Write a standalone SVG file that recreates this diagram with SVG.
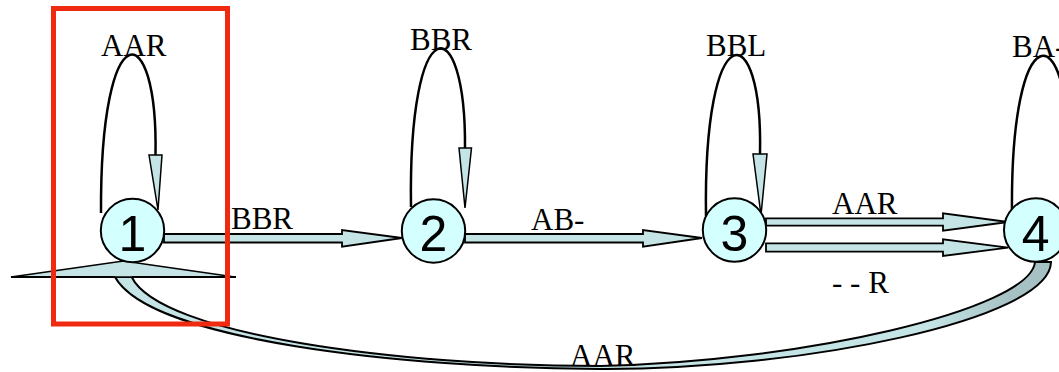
<svg xmlns="http://www.w3.org/2000/svg" width="1059" height="372" viewBox="0 0 1059 372">
<defs>
<style>
.node{fill:#d4ffff;stroke:#000;stroke-width:2}
.num{font-family:"Liberation Sans",Arial,sans-serif;font-size:50px;fill:#000;text-anchor:middle}
.lbl{font-family:"Liberation Serif","Times New Roman",serif;font-size:31px;fill:#000}
.loop{fill:none;stroke:#000;stroke-width:2.5}
.head{fill:#c4e4e6;stroke:#000;stroke-width:1.5;stroke-linejoin:miter}
.arrow{fill:#c4e4e6;stroke:#000;stroke-width:1.8}
</style>
<linearGradient id="band" gradientUnits="userSpaceOnUse" x1="930" y1="0" x2="1010" y2="0">
<stop offset="0" stop-color="#c4e4e6"/>
<stop offset="1" stop-color="#a6c1c3"/>
</linearGradient>
</defs>
<rect width="1059" height="372" fill="#fff"/>
<g id="connectors">
<path id="e41" d="M115,277 C150,340 400,368 600,369 C800,370 1050,320 1051,262 L1035,262 C1030,310 800,362 600,366 C400,366 160,335 131.7,277 Z" fill="url(#band)" stroke="#000" stroke-width="2"/>
<polygon points="11,277 123.5,261 235,277" class="head"/>
<line x1="11" y1="277" x2="115" y2="277" stroke="#000" stroke-width="2"/>
<line x1="131.7" y1="277" x2="236" y2="277" stroke="#000" stroke-width="2"/>
<path d="M101,213 C100,10 158,15 155.5,155" class="loop"/>
<polygon points="149,155 162,155 158,210" class="head"/>
<path d="M411,207 C408,5 466,8 465,148" class="loop"/>
<polygon points="459,148 471.5,148 465,208" class="head"/>
<path d="M706,216 C703,12 763,14 760,154" class="loop"/>
<polygon points="753,154 767,154 761,215" class="head"/>
<path d="M1012,213 C1010,12 1070,15 1068,158" class="loop"/>
<polygon points="1061,158 1075,158 1069,212" class="head"/>
<polygon points="164,234 342,234 342,230 402,238 342,246.7 342,242.5 164,242.5" class="arrow"/>
<polygon points="465,234 643,234 643,230 702,238 643,246.7 643,242.5 465,242.5" class="arrow"/>
<polygon points="766,218.3 943,218.3 943,213.3 1008,222 943,230.7 943,225.7 766,225.7" class="arrow"/>
<polygon points="766,243.3 943,243.3 943,239.3 1008,247.7 943,256 943,251.7 766,251.7" class="arrow"/>
<text class="lbl" x="101" y="56">AAR</text>
<text class="lbl" x="410" y="50">BBR</text>
<text class="lbl" x="706" y="56">BBL</text>
<text class="lbl" x="1012" y="57">BA-</text>
<text class="lbl" x="231" y="229">BBR</text>
<text class="lbl" x="531" y="230">AB-</text>
<text class="lbl" x="832" y="214">AAR</text>
<text class="lbl" x="832" y="293">- - R</text>
<text class="lbl" x="570" y="366">AAR</text>
</g>
<g id="node1"><circle cx="132.5" cy="230.5" r="31.7" class="node"/><text class="num" x="132.5" y="251">1</text></g>
<g id="node2"><circle cx="433.5" cy="231" r="31.7" class="node"/><text class="num" x="433.5" y="251">2</text></g>
<g id="node3"><circle cx="734.5" cy="230" r="31.7" class="node"/><text class="num" x="734.5" y="251">3</text></g>
<g id="node4"><circle cx="1035.7" cy="230" r="31.7" class="node"/><text class="num" x="1035.7" y="251">4</text></g>
<g id="highlight"><rect x="53.5" y="8.5" width="174" height="315.5" fill="none" stroke="#f02a10" stroke-width="5"/></g>
</svg>
